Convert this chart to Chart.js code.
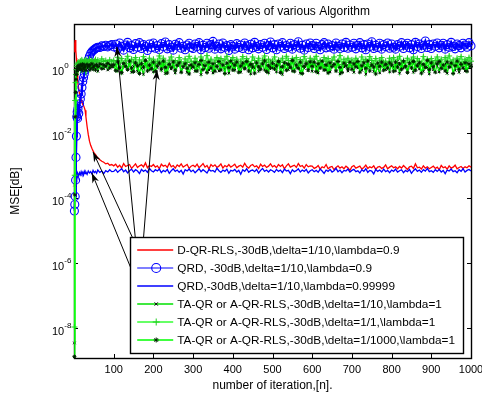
<!DOCTYPE html>
<html>
<head>
<meta charset="utf-8">
<script src="https://cdn.jsdelivr.net/npm/chart.js@4.4.1/dist/chart.umd.min.js"></script>
<style>
  html, body { margin: 0; padding: 0; background: #fff; }
</style>
</head>
<body>
<canvas id="chart" width="482" height="397"></canvas>
<script>
/* Learning curves - MSE vs iteration (log y) */

// iteration index of every sample
const iterations = [
  1,2,3,4,5,6,7,8,9,10,12,14,16,18,20,22,24,26,28,30,33,36,39,42,45,48,51,54,57,60,65,70,75,80,85,90,95,
  100,105,110,115,120,125,130,135,140,145,150,155,160,165,170,175,180,185,190,195,
  200,205,210,215,220,225,230,235,240,245,250,255,260,265,270,275,280,285,290,295,
  300,305,310,315,320,325,330,335,340,345,350,355,360,365,370,375,380,385,390,395,
  400,405,410,415,420,425,430,435,440,445,450,455,460,465,470,475,480,485,490,495,
  500,505,510,515,520,525,530,535,540,545,550,555,560,565,570,575,580,585,590,595,
  600,605,610,615,620,625,630,635,640,645,650,655,660,665,670,675,680,685,690,695,
  700,705,710,715,720,725,730,735,740,745,750,755,760,765,770,775,780,785,790,795,
  800,805,810,815,820,825,830,835,840,845,850,855,860,865,870,875,880,885,890,895,
  900,905,910,915,920,925,930,935,940,945,950,955,960,965,970,975,980,985,990,995,
  1000
];

// series values, stored as log10(MSE)
const dqrRlsLog = [
  0.50,0.75,0.86,0.80,0.55,0.30,0.05,-0.15,-0.30,-0.45,-0.65,-0.80,-0.90,-0.98,-1.05,-1.10,-1.15,-1.22,-1.30,-1.50,
  -1.80,-2.05,-2.25,-2.38,-2.47,-2.55,-2.62,-2.66,-2.72,-2.76,-2.82,-2.87,-2.90,-2.95,-2.93,-2.99,-2.97,
  -3.01,-2.96,-3.05,-2.99,-3.08,-2.94,-3.03,-3.00,-2.97,-3.09,-3.02,-2.95,-3.06,-3.01,-2.98,-3.04,-2.92,-3.07,-3.00,-3.03,
  -2.97,-3.05,-3.01,-3.10,-2.96,-3.02,-2.99,-3.06,-2.93,-3.04,-3.00,-3.08,-2.98,-3.03,-2.95,-3.05,-3.01,-2.97,-3.09,-3.02,
  -2.99,-3.04,-2.96,-3.07,-3.01,-2.94,-3.05,-3.00,-3.11,-2.97,-3.03,-2.98,-3.06,-3.02,-2.95,-3.08,-3.00,-3.04,-2.97,-3.05,
  -3.01,-2.96,-3.07,-3.02,-2.99,-3.05,-2.93,-3.03,-3.08,-3.00,-2.97,-3.04,-3.01,-3.09,-2.96,-3.03,-2.99,-3.06,-3.02,-2.95,
  -3.04,-3.00,-3.07,-2.97,-3.03,-2.98,-3.10,-3.01,-2.95,-3.05,-3.02,-2.99,-3.06,-2.94,-3.03,-3.00,-3.08,-2.97,-3.04,-3.01,
  -3.02,-3.09,-3.06,-3.00,-3.11,-3.04,-3.07,-2.97,-3.10,-3.05,-3.03,-3.13,-3.06,-3.01,-3.08,-3.04,-3.10,-3.02,-3.07,-3.15,
  -3.04,-3.00,-3.08,-3.05,-3.02,-3.11,-3.06,-2.99,-3.09,-3.04,-3.07,-3.01,-3.12,-3.05,-3.03,-3.09,-3.06,-2.98,-3.10,-3.05,
  -3.01,-3.07,-3.04,-3.10,-3.03,-3.08,-3.00,-3.06,-3.12,-3.04,-3.02,-3.09,-2.95,-3.07,-3.05,-3.11,-3.01,-3.08,-3.04,-3.10,
  -3.06,-3.02,-3.09,-3.05,-3.13,-3.00,-3.07,-3.04,-3.11,-3.01,-3.08,-3.05,-2.99,-3.10,-3.06,-3.03,-3.09,-3.04,-3.07,-3.01,
  -3.05
];

const qrdFastLog = [
  -4.40,-4.20,-3.95,-3.45,-2.75,-2.10,-1.50,-1.35,-1.55,-1.25,-1.40,-1.10,-0.95,-0.80,-0.60,-0.42,-0.30,-0.18,-0.06,0.04,
  0.16,0.26,0.36,0.45,0.50,0.54,0.57,0.60,0.62,0.64,0.63,0.68,0.66,0.70,0.65,0.69,0.72,
  0.65,0.73,0.59,0.77,0.67,0.55,0.71,0.79,0.62,0.69,0.57,0.75,0.64,0.78,0.60,0.72,0.66,0.54,0.74,0.63,
  0.77,0.61,0.69,0.57,0.75,0.66,0.80,0.59,0.72,0.64,0.55,0.73,0.68,0.78,0.61,0.67,0.56,0.71,0.76,0.63,
  0.60,0.74,0.66,0.78,0.56,0.70,0.63,0.76,0.61,0.72,0.82,0.58,0.67,0.74,0.59,0.77,0.64,0.69,0.54,0.72,
  0.67,0.58,0.75,0.63,0.71,0.60,0.77,0.68,0.56,0.73,0.62,0.79,0.66,0.59,0.72,0.64,0.76,0.57,0.69,0.80,
  0.62,0.72,0.56,0.74,0.66,0.78,0.60,0.69,0.64,0.76,0.58,0.72,0.67,0.81,0.61,0.70,0.55,0.74,0.63,0.77,
  0.69,0.60,0.76,0.66,0.56,0.72,0.78,0.62,0.74,0.64,0.69,0.58,0.77,0.67,0.60,0.74,0.63,0.79,0.61,0.71,
  0.64,0.76,0.59,0.70,0.78,0.62,0.72,0.56,0.74,0.66,0.81,0.60,0.70,0.63,0.76,0.58,0.72,0.66,0.77,0.61,
  0.74,0.64,0.58,0.72,0.67,0.78,0.60,0.70,0.76,0.62,0.72,0.56,0.79,0.66,0.74,0.60,0.70,0.83,0.63,0.72,
  0.60,0.74,0.67,0.77,0.62,0.70,0.76,0.58,0.72,0.64,0.79,0.66,0.59,0.74,0.69,0.62,0.76,0.71,0.64,0.78,
  0.68
];

const qrdSlowLog = [
  -3.60,-3.45,-3.40,-3.34,-3.38,-3.30,-3.36,-3.27,-3.33,-3.24,-3.31,-3.22,-3.28,-3.19,-3.26,-3.21,-3.29,-3.18,-3.25,-3.20,
  -3.27,-3.17,-3.23,-3.19,-3.26,-3.15,-3.22,-3.18,-3.24,-3.14,-3.21,-3.17,-3.25,-3.16,-3.20,-3.13,-3.19,
  -3.18,-3.12,-3.21,-3.15,-3.10,-3.19,-3.14,-3.23,-3.16,-3.11,-3.20,-3.13,-3.17,-3.25,-3.12,-3.18,-3.14,-3.21,-3.09,-3.16,
  -3.20,-3.13,-3.17,-3.11,-3.22,-3.15,-3.19,-3.12,-3.24,-3.16,-3.10,-3.18,-3.14,-3.21,-3.15,-3.26,-3.13,-3.17,-3.11,-3.19,
  -3.14,-3.22,-3.16,-3.10,-3.19,-3.13,-3.18,-3.23,-3.12,-3.17,-3.15,-3.20,-3.08,-3.16,-3.21,-3.14,-3.18,-3.11,-3.24,-3.15,
  -3.17,-3.12,-3.20,-3.15,-3.27,-3.13,-3.18,-3.10,-3.21,-3.16,-3.14,-3.19,-3.12,-3.23,-3.15,-3.09,-3.18,-3.14,-3.20,-3.13,
  -3.16,-3.21,-3.12,-3.18,-3.14,-3.22,-3.11,-3.17,-3.15,-3.25,-3.13,-3.19,-3.16,-3.10,-3.20,-3.14,-3.18,-3.12,-3.23,-3.16,
  -3.13,-3.19,-3.15,-3.21,-3.11,-3.17,-3.24,-3.14,-3.18,-3.12,-3.20,-3.16,-3.09,-3.19,-3.14,-3.22,-3.15,-3.17,-3.11,-3.20,
  -3.15,-3.12,-3.19,-3.16,-3.23,-3.13,-3.18,-3.10,-3.21,-3.15,-3.17,-3.26,-3.12,-3.18,-3.14,-3.20,-3.11,-3.19,-3.15,-3.22,
  -3.14,-3.18,-3.11,-3.20,-3.16,-3.13,-3.22,-3.15,-3.19,-3.12,-3.24,-3.16,-3.10,-3.18,-3.14,-3.21,-3.13,-3.17,-3.09,-3.19,
  -3.16,-3.21,-3.13,-3.18,-3.12,-3.20,-3.15,-3.25,-3.14,-3.17,-3.11,-3.19,-3.16,-3.22,-3.13,-3.18,-3.10,-3.20,-3.15,-3.12,
  -3.17
];

const taQrD10Log = [
  -8.46,-3.60,-1.30,-0.60,-0.30,-0.15,-0.05,0.00,-0.08,0.05,-0.03,0.08,-0.06,0.10,0.02,-0.09,0.07,0.12,-0.04,0.06,
  0.00,0.11,-0.07,0.09,0.03,-0.05,0.13,0.01,0.08,-0.10,0.05,0.12,-0.02,0.07,-0.06,0.10,0.03,
  0.03,0.18,-0.09,0.12,-0.16,0.07,0.21,-0.04,0.14,-0.13,0.05,0.17,-0.10,0.10,-0.01,-0.19,0.15,0.06,-0.06,0.20,
  -0.12,0.09,0.01,0.22,-0.07,0.13,-0.17,0.04,0.18,-0.03,0.10,-0.15,0.07,0.16,-0.09,0.02,0.21,-0.13,0.08,-0.01,
  0.17,-0.10,0.05,0.13,-0.20,0.10,0.00,0.18,-0.06,0.07,-0.15,0.15,0.03,-0.09,0.12,0.22,-0.04,0.08,-0.16,0.05,
  0.14,-0.07,0.20,0.02,-0.13,0.10,-0.03,0.17,0.06,-0.18,0.12,-0.01,0.18,-0.10,0.05,0.15,-0.06,0.09,-0.15,0.21,
  0.00,0.12,-0.12,0.17,0.03,-0.19,0.08,0.15,-0.05,0.10,-0.09,0.20,0.02,0.13,-0.16,0.06,-0.01,0.18,-0.08,0.11,
  -0.10,0.15,0.05,-0.15,0.20,0.02,0.10,-0.06,0.17,-0.12,0.07,0.13,-0.03,0.21,-0.18,0.08,0.03,0.15,-0.09,0.11,
  0.05,-0.13,0.18,0.00,0.10,-0.07,0.15,-0.19,0.08,0.02,0.20,-0.10,0.12,-0.01,-0.15,0.16,0.06,-0.05,0.13,-0.12,
  0.15,0.03,-0.09,0.20,-0.16,0.10,0.00,0.17,-0.06,0.08,0.21,-0.13,0.05,0.13,-0.03,0.18,-0.10,0.06,0.02,-0.18,
  0.12,-0.05,0.17,0.06,-0.12,0.20,-0.01,0.13,-0.16,0.08,0.03,0.18,-0.07,0.10,-0.13,0.15,0.02,-0.09,0.17,0.04,
  0.07
];

const taQrD1Log = [
  -7.97,-3.30,-1.00,-0.45,-0.20,-0.05,0.05,0.10,0.15,0.12,0.18,0.14,0.21,0.16,0.24,0.19,0.13,0.22,0.17,0.25,
  0.20,0.15,0.27,0.18,0.23,0.12,0.21,0.26,0.19,0.24,0.16,0.28,0.20,0.23,0.14,0.25,0.19,
  0.23,0.11,0.33,0.16,0.29,0.06,0.22,0.36,0.13,0.27,0.18,0.32,0.08,0.25,0.14,0.35,0.20,0.09,0.30,0.16,
  0.27,0.14,0.21,0.37,0.10,0.30,0.18,0.05,0.24,0.34,0.16,0.23,0.12,0.32,0.19,0.07,0.28,0.17,0.36,0.21,
  0.12,0.30,0.20,0.09,0.34,0.23,0.15,0.38,0.14,0.27,0.04,0.22,0.32,0.17,0.29,0.10,0.25,0.36,0.15,0.23,
  0.32,0.17,0.27,0.07,0.21,0.35,0.13,0.29,0.19,0.10,0.34,0.23,0.15,0.30,0.05,0.24,0.37,0.17,0.27,0.12,
  0.21,0.34,0.10,0.24,0.17,0.30,0.08,0.36,0.23,0.13,0.29,0.19,0.32,0.07,0.26,0.15,0.35,0.21,0.11,0.30,
  0.17,0.27,0.36,0.13,0.23,0.08,0.32,0.19,0.29,0.05,0.24,0.34,0.15,0.21,0.38,0.11,0.27,0.17,0.30,0.10,
  0.25,0.15,0.30,0.21,0.07,0.34,0.19,0.27,0.12,0.35,0.23,0.13,0.29,0.04,0.24,0.32,0.17,0.21,0.09,0.30,
  0.19,0.32,0.10,0.27,0.36,0.15,0.23,0.07,0.30,0.17,0.25,0.34,0.12,0.29,0.21,0.13,0.35,0.08,0.27,0.19,
  0.29,0.12,0.23,0.34,0.17,0.27,0.06,0.32,0.21,0.37,0.15,0.25,0.10,0.30,0.19,0.35,0.13,0.27,0.22,0.32,
  0.21
];

const taQrD1000Log = [
  -8.88,-3.90,-1.50,-0.75,-0.35,-0.20,-0.10,-0.02,0.04,-0.05,0.07,0.01,0.10,-0.04,0.06,0.12,-0.01,0.09,0.03,-0.07,
  0.11,0.05,0.08,-0.03,0.13,0.02,0.07,-0.06,0.10,0.04,0.12,-0.02,0.09,0.06,0.14,0.00,0.08,
  0.10,-0.08,0.19,0.01,-0.14,0.14,0.05,-0.05,0.21,0.00,-0.11,0.16,0.07,-0.17,0.13,0.03,0.23,-0.09,0.09,-0.02,
  0.18,-0.10,0.06,0.15,-0.03,0.21,0.02,-0.15,0.11,0.01,0.19,-0.07,0.08,0.16,-0.13,0.04,0.13,-0.01,-0.18,0.09,
  0.03,0.16,-0.09,0.11,0.23,-0.05,0.07,-0.14,0.18,0.00,0.13,-0.10,0.05,0.20,-0.06,0.09,-0.17,0.15,0.01,0.21,
  -0.06,0.09,0.18,-0.13,0.06,0.15,-0.01,0.20,-0.09,0.11,0.03,-0.16,0.16,0.04,-0.04,0.13,0.22,-0.11,0.07,0.00,
  0.15,-0.03,0.07,0.20,-0.14,0.04,0.16,-0.07,0.11,0.02,0.23,-0.10,0.09,-0.01,0.18,-0.17,0.05,0.13,-0.06,0.19,
  0.05,0.18,-0.11,0.13,0.00,0.21,-0.06,0.09,-0.15,0.16,0.04,0.11,-0.09,0.20,0.02,-0.14,0.15,0.07,-0.03,0.18,
  -0.04,0.13,0.04,0.20,-0.13,0.07,0.16,-0.01,0.21,-0.09,0.09,0.03,-0.18,0.15,0.05,0.18,-0.07,0.11,0.00,0.16,
  0.09,-0.10,0.18,0.03,0.13,-0.04,0.21,0.05,-0.14,0.15,0.00,0.20,-0.07,0.07,0.16,-0.16,0.11,0.02,0.23,-0.05,
  0.16,0.04,-0.13,0.13,0.20,-0.01,0.09,-0.09,0.18,0.03,0.15,-0.17,0.07,0.21,-0.04,0.11,0.00,0.16,-0.10,0.13,
  0.05
];

const seriesLabels = [
  'D-QR-RLS,-30dB,\\delta=1/10,\\lambda=0.9',
  'QRD, -30dB,\\delta=1/10,\\lambda=0.9',
  'QRD,-30dB,\\delta=1/10,\\lambda=0.99999',
  'TA-QR or A-QR-RLS,-30dB,\\delta=1/10,\\lambda=1',
  'TA-QR or A-QR-RLS,-30dB,\\delta=1/1,\\lambda=1',
  'TA-QR or A-QR-RLS,-30dB,\\delta=1/1000,\\lambda=1'
];

const xTickValues = [100,200,300,400,500,600,700,800,900,1000];
const yTickValues = [1e-8,1e-6,1e-4,1e-2,1];

// annotation arrows: legend row -> point on the curve (iteration, MSE)
const arrowNotes = [
  {row: 0, x: 48, y: 2.6e-3},
  {row: 1, x: 108, y: 4.5},
  {row: 2, x: 45, y: 5.9e-4},
  {row: 3, x: 209, y: 0.87}
];

const FONT = "'Liberation Sans', Arial, sans-serif";
Chart.defaults.font.family = FONT;
Chart.defaults.color = '#000';

function toPoints(logs){
  return logs.map((v, i) => ({x: iterations[i], y: Math.pow(10, v)}));
}

function makeSet(i, logs, style){
  return Object.assign({
    label: seriesLabels[i],
    data: toPoints(logs),
    borderWidth: 1.3,
    pointRadius: 0,
    fill: false,
    tension: 0,
    clip: false,
    order: 6 - i
  }, style);
}

const datasets = [
  makeSet(0, dqrRlsLog, {borderColor: '#ff0000'}),
  makeSet(1, qrdFastLog, {borderColor: '#0000ff', borderWidth: 2.4, legendLineWidth: 1.2, pointStyle: 'circle', pointRadius: 4,
    pointBorderColor: '#0000ff', pointBackgroundColor: 'rgba(0,0,0,0)', pointBorderWidth: 1.1}),
  makeSet(2, qrdSlowLog, {borderColor: '#0000ff'}),
  makeSet(3, taQrD10Log, {borderColor: '#00e000', pointStyle: 'crossRot', pointRadius: 1.8,
    pointBorderColor: '#000', pointBorderWidth: 1}),
  makeSet(4, taQrD1Log, {borderColor: '#66ff66', borderWidth: 2, pointStyle: 'cross', pointRadius: 3,
    pointBorderColor: '#22cc22', pointBorderWidth: 1}),
  makeSet(5, taQrD1000Log, {borderColor: '#00ff00', pointStyle: 'star', pointRadius: 2,
    pointBorderColor: '#002200', pointBorderWidth: 1})
];

// frame with inward ticks, superscript y labels (drawn under the curves)
const matlabAxes = {
  id: 'matlabAxes',
  beforeDatasetsDraw(chart){
    const {ctx, chartArea: a, scales: {x, y}} = chart;
    ctx.save();
    ctx.strokeStyle = '#000';
    ctx.lineWidth = 1.4;
    ctx.strokeRect(a.left + 0.5, a.top + 0.5, a.right - a.left, a.bottom - a.top);
    ctx.lineWidth = 1;
    ctx.beginPath();
    x.ticks.forEach(t => {
      const px = Math.round(x.getPixelForValue(t.value)) + 0.5;
      ctx.moveTo(px, a.bottom); ctx.lineTo(px, a.bottom - 4);
      ctx.moveTo(px, a.top); ctx.lineTo(px, a.top + 4);
    });
    y.ticks.forEach(t => {
      const py = Math.round(y.getPixelForValue(t.value)) + 0.5;
      ctx.moveTo(a.left, py); ctx.lineTo(a.left + 4, py);
      ctx.moveTo(a.right, py); ctx.lineTo(a.right - 4, py);
    });
    ctx.stroke();
    ctx.fillStyle = '#000';
    ctx.textAlign = 'left';
    ctx.textBaseline = 'middle';
    y.ticks.forEach(t => {
      const py = y.getPixelForValue(t.value);
      const exp = Math.round(Math.log10(t.value));
      ctx.font = '11px ' + FONT;
      ctx.fillText('10', 52, py + 4);
      const w = ctx.measureText('10').width;
      ctx.font = '8px ' + FONT;
      ctx.fillText(String(exp), 52 + w, py - 2);
    });
    ctx.restore();
  }
};

// legend box in the lower right plus arrows pointing to curves
const boxLegend = {
  id: 'boxLegend',
  afterDraw(chart){
    const {ctx, chartArea: a, scales: {x, y}} = chart;
    const sets = chart.data.datasets;
    ctx.save();
    ctx.font = '11.8px ' + FONT;
    const textW = Math.max(...sets.map(d => ctx.measureText(d.label).width));
    const rowH = 18;
    const boxW = 47 + textW + 8;
    const boxH = sets.length * rowH + 8;
    const right = a.right - 8, bottom = a.bottom - 5;
    const left = right - boxW, top = bottom - boxH;

    ctx.strokeStyle = '#000';
    ctx.fillStyle = '#000';
    ctx.lineWidth = 1;
    arrowNotes.forEach(n => {
      const tx = left + 8, ty = top + 13 + n.row * rowH;
      const hx = x.getPixelForValue(n.x), hy = y.getPixelForValue(n.y);
      const ang = Math.atan2(hy - ty, hx - tx);
      ctx.beginPath(); ctx.moveTo(tx, ty); ctx.lineTo(hx, hy); ctx.stroke();
      ctx.beginPath();
      ctx.moveTo(hx, hy);
      ctx.lineTo(hx - 10 * Math.cos(ang) + 3.5 * Math.sin(ang), hy - 10 * Math.sin(ang) - 3.5 * Math.cos(ang));
      ctx.lineTo(hx - 7 * Math.cos(ang), hy - 7 * Math.sin(ang));
      ctx.lineTo(hx - 10 * Math.cos(ang) - 3.5 * Math.sin(ang), hy - 10 * Math.sin(ang) + 3.5 * Math.cos(ang));
      ctx.closePath(); ctx.fill();
    });

    ctx.fillStyle = '#fff';
    ctx.fillRect(left, top, boxW, boxH);
    ctx.lineWidth = 1.4;
    ctx.strokeRect(Math.round(left) + 0.5, Math.round(top) + 0.5, Math.round(boxW), Math.round(boxH));

    sets.forEach((d, i) => {
      const ry = top + 13 + i * rowH;
      ctx.strokeStyle = d.borderColor;
      ctx.lineWidth = d.legendLineWidth || d.borderWidth;
      ctx.beginPath(); ctx.moveTo(left + 7, ry); ctx.lineTo(left + 43, ry); ctx.stroke();
      if (d.pointRadius > 0) {
        ctx.strokeStyle = d.pointBorderColor;
        ctx.fillStyle = d.pointBackgroundColor || d.pointBorderColor;
        ctx.lineWidth = d.pointBorderWidth;
        Chart.helpers.drawPoint(ctx, {
          pointStyle: d.pointStyle, radius: d.pointRadius + 0.5, borderWidth: d.pointBorderWidth, rotation: 0
        }, left + 26, ry);
      }
      ctx.fillStyle = '#000';
      ctx.textAlign = 'left';
      ctx.textBaseline = 'middle';
      ctx.fillText(d.label, left + 47, ry + 0.5);
    });
    ctx.restore();
  }
};

new Chart(document.getElementById('chart'), {
  type: 'line',
  data: {datasets},
  options: {
    responsive: false,
    animation: false,
    parsing: false,
    layout: {padding: {left: 0, right: 11, top: 0, bottom: 0}},
    plugins: {
      legend: {display: false},
      tooltip: {enabled: false},
      title: {
        display: true,
        fullSize: false,
        text: 'Learning curves of various Algorithm',
        font: {size: 12, weight: 'normal'},
        color: '#000',
        padding: {top: 4, bottom: 5.6}
      }
    },
    scales: {
      x: {
        type: 'linear',
        min: 0, max: 1000,
        grid: {display: false, drawTicks: false},
        border: {display: false},
        afterBuildTicks: s => { s.ticks = xTickValues.map(v => ({value: v})); },
        afterFit: s => { s.height = 39; s.paddingLeft = 0; s.paddingRight = 0; },
        ticks: {font: {size: 11}, color: '#000', padding: 5, maxRotation: 0, autoSkip: false,
          callback: v => String(v)},
        title: {display: true, text: 'number of iteration,[n].', font: {size: 12}, color: '#000',
          padding: {top: 0, bottom: 4}}
      },
      y: {
        type: 'logarithmic',
        min: Math.pow(10, -8.923), max: Math.pow(10, 1.354),
        grid: {display: false, drawTicks: false},
        border: {display: false},
        afterBuildTicks: s => { s.ticks = yTickValues.map(v => ({value: v})); },
        afterFit: s => { s.width = 74; s.paddingTop = 0; s.paddingBottom = 0; },
        ticks: {display: false},
        title: {display: true, text: 'MSE[dB]', font: {size: 12}, color: '#000',
          padding: {top: 8, bottom: 0}}
      }
    }
  },
  plugins: [matlabAxes, boxLegend]
});
</script>
</body>
</html>
